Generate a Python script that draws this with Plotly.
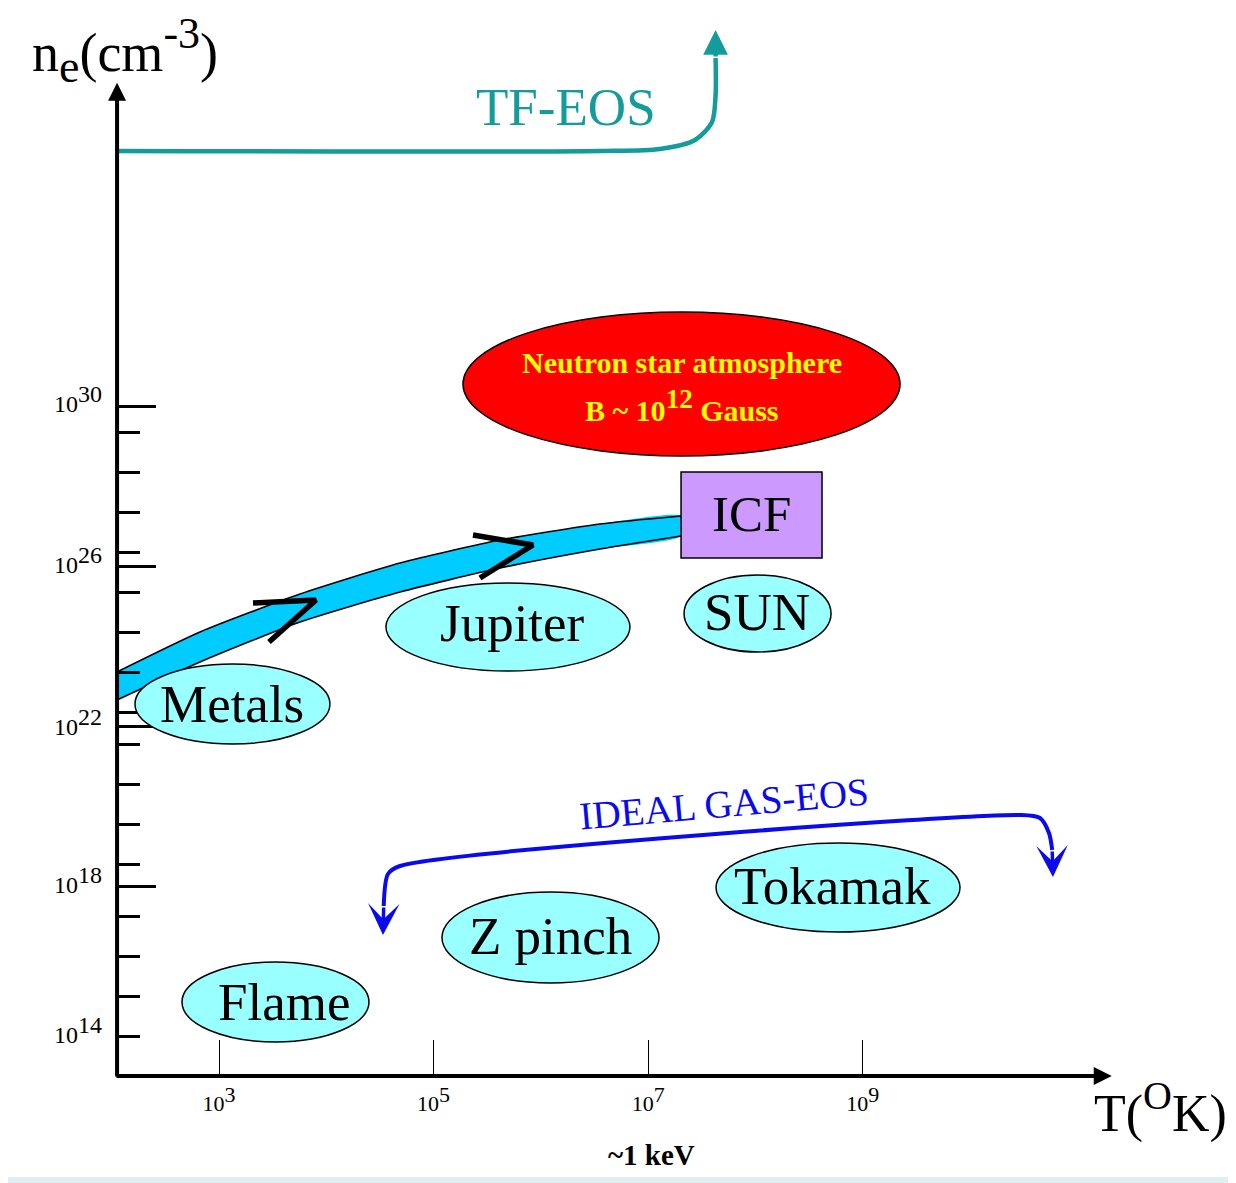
import plotly.graph_objects as go

# ---------------- data (x = log10 T [K], y = log10 n_e [cm^-3]) ----------------
x_tick_vals = [3, 5, 7, 9]
x_tick_exps = [3, 5, 7, 9]

y_major_ticks = [30, 26, 22, 18]
y_minor_ticks = [29.33, 28.33, 27.33, 26.35, 25.35, 24.35, 23.35, 22.35,
                 21.53, 20.53, 19.53, 18.55, 17.23, 16.23, 15.25, 14.25]
y_label_vals = [30.18, 26.15, 22.1, 18.15, 14.4]
y_label_exps = [30, 26, 22, 18, 14]

axis_origin_T = 2.05
axis_origin_n = 13.25
axis_end_T = 11.32
axis_end_n = 38.08

regions = ["Metals", "Jupiter", "SUN", "Tokamak", "Z pinch", "Flame"]
region_T_lo = [2.217, 4.556, 7.334, 7.632, 5.078, 2.655]
region_T_hi = [4.034, 6.830, 8.704, 9.906, 7.101, 4.398]
region_n_lo = [21.55, 23.375, 23.85, 16.85, 15.575, 14.10]
region_n_hi = [23.55, 25.575, 25.775, 19.075, 17.85, 16.10]
region_label_T = [3.121, 5.731, 8.014, 8.713, 6.094, 3.606]
region_label_n = [22.55, 24.575, 24.85, 18.0, 16.75, 15.1]

ns_T = [5.274, 9.347]
ns_n = [28.75, 32.35]
ns_label_T = 7.315
ns_label_n = [31.1, 30.025]
ns_lines = ["<b>Neutron star atmosphere</b>",
            "<b>B ~ 10<sup><span style='font-size:27px'>12</span></sup> Gauss</b>"]

icf_T = [7.306, 8.62]
icf_n = [26.2, 28.35]
icf_label = (7.958, 27.3)

band_T = [2.049, 2.823, 3.755, 4.687, 5.619, 6.551, 7.306]
band_n_top = [23.35, 24.35, 25.30, 26.075, 26.65, 27.05, 27.25]
band_n_bot = [22.65, 23.60, 24.60, 25.35, 25.95, 26.425, 26.75]

chev1_T = [3.317, 3.904, 3.466]
chev1_n = [25.075, 25.15, 24.10]
chev2_T = [5.367, 5.926, 5.432]
chev2_n = [26.775, 26.525, 25.70]

tf_T = [2.049, 6.551, 7.11, 7.436, 7.595, 7.628, 7.628]
tf_n = [36.375, 36.375, 36.425, 36.65, 37.10, 37.775, 38.70]
tf_tip = (7.628, 39.40)
tf_label = (6.234, 37.475)

ideal_T = [4.535, 4.575, 4.687, 10.465, 10.651, 10.735, 10.765]
ideal_n = [17.50, 18.30, 18.50, 19.775, 19.70, 19.325, 18.90]
ideal_tip_left = (4.528, 16.775)
ideal_tip_right = (10.772, 18.225)
ideal_label = (7.706, 20.075)

# ---------------- styling ----------------
SERIF = "Liberation Serif"
CYAN = "#99FFFF"
BAND = "#00CCFF"
TEAL = "#149B9B"
BLUE = "#0A0AEE"

# page body adds an 8px offset, so the figure is 8px smaller than the window
W, H = 1228, 1175
x_range = [1.0336, 12.478]
y_range = [10.575, 39.95]


def sup(base, exp, px):
    return f"{base}<sup><span style='font-size:{px}px'>{exp}</span></sup>"


fig = go.Figure()

# blue band (fill + edges)
fig.add_trace(go.Scatter(
    x=band_T + band_T[::-1], y=band_n_top + band_n_bot[::-1],
    mode="lines", fill="toself", fillcolor=BAND,
    line=dict(width=0, color=BAND, shape="spline", smoothing=0.6),
    hoverinfo="skip", showlegend=False))
for edge in (band_n_top, band_n_bot):
    fig.add_trace(go.Scatter(x=band_T, y=edge, mode="lines",
                             line=dict(color="black", width=1.6, shape="spline", smoothing=0.6),
                             hoverinfo="skip", showlegend=False))
# chevrons
for cx, cy in ((chev1_T, chev1_n), (chev2_T, chev2_n)):
    fig.add_trace(go.Scatter(x=cx, y=cy, mode="lines",
                             line=dict(color="black", width=5.5),
                             hoverinfo="skip", showlegend=False))
# TF-EOS curve
fig.add_trace(go.Scatter(x=tf_T, y=tf_n, mode="lines",
                         line=dict(color=TEAL, width=4.5, shape="spline", smoothing=0.8),
                         hoverinfo="skip", showlegend=False))
# IDEAL GAS curve
fig.add_trace(go.Scatter(x=ideal_T, y=ideal_n, mode="lines",
                         line=dict(color=BLUE, width=4, shape="spline", smoothing=0.8),
                         hoverinfo="skip", showlegend=False))

shapes = []
# white page
shapes.append(dict(type="rect", xref="paper", yref="paper", x0=-0.01, x1=0.9959,
                   y0=0.0051, y1=1.01, fillcolor="white", line=dict(width=0), layer="below"))
# neutron star ellipse
shapes.append(dict(type="circle", xref="x", yref="y", x0=ns_T[0], x1=ns_T[1],
                   y0=ns_n[0], y1=ns_n[1], fillcolor="#FF0000",
                   line=dict(color="black", width=1.5), layer="above"))
# ICF box
shapes.append(dict(type="rect", xref="x", yref="y", x0=icf_T[0], x1=icf_T[1],
                   y0=icf_n[0], y1=icf_n[1], fillcolor="#CC99FF",
                   line=dict(color="black", width=1.5), layer="above"))
# regions
for i in range(len(regions)):
    shapes.append(dict(type="circle", xref="x", yref="y",
                       x0=region_T_lo[i], x1=region_T_hi[i],
                       y0=region_n_lo[i], y1=region_n_hi[i],
                       fillcolor=CYAN, line=dict(color="black", width=1.5), layer="above"))

annotations = []
for i, name in enumerate(regions):
    annotations.append(dict(x=region_label_T[i], y=region_label_n[i], text=name,
                            showarrow=False, font=dict(family=SERIF, size=53, color="black")))
annotations.append(dict(x=icf_label[0], y=icf_label[1], text="ICF", showarrow=False,
                        font=dict(family=SERIF, size=51, color="black")))
for yv, txt in zip(ns_label_n, ns_lines):
    annotations.append(dict(x=ns_label_T, y=yv, text=txt, showarrow=False,
                            font=dict(family=SERIF, size=30, color="#FFFF00")))
annotations.append(dict(x=tf_label[0], y=tf_label[1], text="TF-EOS", showarrow=False,
                        font=dict(family=SERIF, size=53, color=TEAL)))
annotations.append(dict(x=ideal_label[0], y=ideal_label[1], text="IDEAL GAS-EOS",
                        showarrow=False, textangle=-5,
                        font=dict(family=SERIF, size=39, color=BLUE)))


def arrow(tip, tail, color, width, head, size):
    return dict(x=tip[0], y=tip[1], ax=tail[0], ay=tail[1], xref="x", yref="y",
                axref="x", ayref="y", text="", showarrow=True, arrowhead=head,
                arrowsize=size, arrowwidth=width, arrowcolor=color, standoff=0)


annotations.append(arrow(tf_tip, (tf_T[-1], tf_n[-1]), TEAL, 4.5, 2, 1.1))
annotations.append(arrow(ideal_tip_left, (ideal_T[0], ideal_n[0]), BLUE, 3.5, 3, 1.5))
annotations.append(arrow(ideal_tip_right, (ideal_T[-1], ideal_n[-1]), BLUE, 3.5, 3, 1.5))
annotations.append(arrow((axis_origin_T, axis_end_n), (axis_origin_T, axis_origin_n - 0.05),
                         "black", 4, 2, 0.9))
annotations.append(arrow((axis_end_T, axis_origin_n), (axis_origin_T - 0.02, axis_origin_n),
                         "black", 4, 2, 0.9))

for yv, e in zip(y_label_vals, y_label_exps):
    annotations.append(dict(x=1.69, y=yv, text=sup("10", e, 24), showarrow=False,
                            font=dict(family=SERIF, size=24, color="black")))
annotations.append(dict(x=2.124, y=38.9,
                        text="n<sub><span style='font-size:46px'>e</span></sub>(cm"
                             "<sup><span style='font-size:44px'>-3</span></sup>)",
                        showarrow=False, font=dict(family=SERIF, size=54, color="black")))
annotations.append(dict(x=11.77, y=12.45,
                        text="T(<sup><span style='font-size:40px'>O</span></sup>K)",
                        showarrow=False, font=dict(family=SERIF, size=52, color="black")))
annotations.append(dict(x=7.035, y=11.275, text="<b>~1 keV</b>", showarrow=False,
                        font=dict(family=SERIF, size=29, color="black")))

fig.update_layout(
    width=W, height=H, margin=dict(l=0, r=0, t=0, b=0, autoexpand=False),
    paper_bgcolor="#E2EFF1", plot_bgcolor="rgba(0,0,0,0)",
    shapes=shapes, annotations=annotations, showlegend=False,
    xaxis=dict(range=x_range, anchor="free", position=1 - (1076 - 8) / H,
               showgrid=False, zeroline=False, showline=False,
               ticks="inside", ticklen=36, tickwidth=1.3, tickcolor="black",
               tickvals=x_tick_vals, ticktext=[sup("10", e, 22) for e in x_tick_exps],
               tickfont=dict(family=SERIF, size=22, color="black"),
               ticklabelstandoff=12, fixedrange=True),
    yaxis=dict(range=y_range, anchor="free", position=(117 - 8) / W,
               showgrid=False, zeroline=False, showline=False,
               ticks="inside", ticklen=38, tickwidth=2.5, tickcolor="black",
               tickvals=y_major_ticks, showticklabels=False,
               minor=dict(tickvals=y_minor_ticks, ticks="inside", ticklen=22,
                          tickwidth=2.5, tickcolor="black", showgrid=False),
               fixedrange=True),
)

fig.write_html("out.html")
